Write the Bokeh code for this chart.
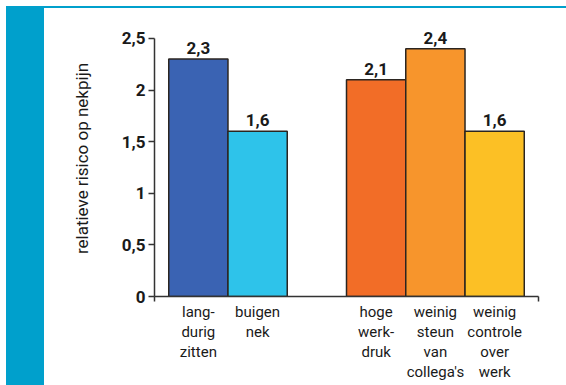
from bokeh.plotting import figure
from bokeh.models import FixedTicker, Range1d, ColumnDataSource
from bokeh.core.properties import value
from bokeh.embed import file_html
from bokeh.resources import INLINE

# ---- data ----
categories = ["lang-\ndurig\nzitten", "buigen\nnek", "hoge\nwerk-\ndruk",
              "weinig\nsteun\nvan\ncollega's", "weinig\ncontrole\nover\nwerk"]
group = [0, 0, 1, 1, 1]
values = [2.3, 1.6, 2.1, 2.4, 1.6]
value_labels = ["2,3", "1,6", "2,1", "2,4", "1,6"]
colors = ["#3a63b3", "#2ec3ea", "#f26d27", "#f7952c", "#fcc025"]
y_ticks = [0, 0.5, 1, 1.5, 2, 2.5]
y_tick_labels = ["0", "0,5", "1", "1,5", "2", "2,5"]
y_label = "relatieve risico op nekpijn"

FONT = "Roboto"
INK = "#1a1a1a"
AXIS = "#333333"
BLUE = "#00a0cc"

xpos = [i + 1 + g for i, g in enumerate(group)]
x0, x1 = xpos[0] - 0.74, xpos[-1] + 0.74

src = ColumnDataSource(dict(x=xpos, top=values, color=colors, lab=value_labels))

p = figure(width=566, height=385, output_backend="svg", toolbar_location=None,
           x_range=Range1d(x0, x1), y_range=Range1d(0, 2.674),
           min_border_left=154, min_border_right=28, min_border_top=20, min_border_bottom=89)
p.outline_line_color = None
p.grid.visible = False
p.background_fill_color = "white"
p.border_fill_color = None
# decorative blue strip on the left and thin rule along the top
p.styles = {
    "background": (f"linear-gradient({BLUE},{BLUE}) 6px 6px / 38px 379px no-repeat, "
                   f"linear-gradient({BLUE},{BLUE}) 44px 6px / 522px 2px no-repeat, white"),
}

p.vbar(x="x", top="top", width=1.0, bottom=0, fill_color="color",
       line_color="#2b2520", line_width=1.5, source=src)
p.text(x="x", y="top", text="lab", source=src, y_offset=-5,
       text_align="center", text_baseline="bottom",
       text_font=value(FONT), text_font_style="bold", text_font_size="17px",
       text_color=INK)

# y axis
yax = p.yaxis[0]
yax.bounds = (0, 2.5)
yax.ticker = FixedTicker(ticks=y_ticks)
yax.major_label_overrides = {t: l for t, l in zip(y_ticks, y_tick_labels)}
yax.major_tick_in = 0
yax.major_tick_out = 6
yax.minor_tick_in = 0
yax.minor_tick_out = 0
yax.axis_line_color = AXIS
yax.axis_line_width = 1.5
yax.major_tick_line_color = AXIS
yax.major_tick_line_width = 1.5
yax.major_label_text_font = FONT
yax.major_label_text_font_style = "bold"
yax.major_label_text_font_size = "17px"
yax.major_label_text_color = INK
yax.major_label_standoff = 3
yax.axis_label = y_label
yax.axis_label_text_font = FONT
yax.axis_label_text_font_style = "normal"
yax.axis_label_text_font_size = "17px"
yax.axis_label_text_color = INK
yax.axis_label_standoff = 27

# x axis
xax = p.xaxis[0]
xax.ticker = FixedTicker(ticks=xpos, minor_ticks=[x0, x1])
xax.major_label_overrides = {x: c for x, c in zip(xpos, categories)}
xax.major_tick_in = 0
xax.major_tick_out = 0
xax.minor_tick_in = 0
xax.minor_tick_out = 5
xax.minor_tick_line_color = AXIS
xax.minor_tick_line_width = 1.5
xax.axis_line_color = AXIS
xax.axis_line_width = 1.5
xax.major_label_text_font = FONT
xax.major_label_text_font_size = "15px"
xax.major_label_text_color = INK
xax.major_label_standoff = 1
xax.major_label_text_line_height = 1.12

open("out.html", "w").write(file_html(p, INLINE))
